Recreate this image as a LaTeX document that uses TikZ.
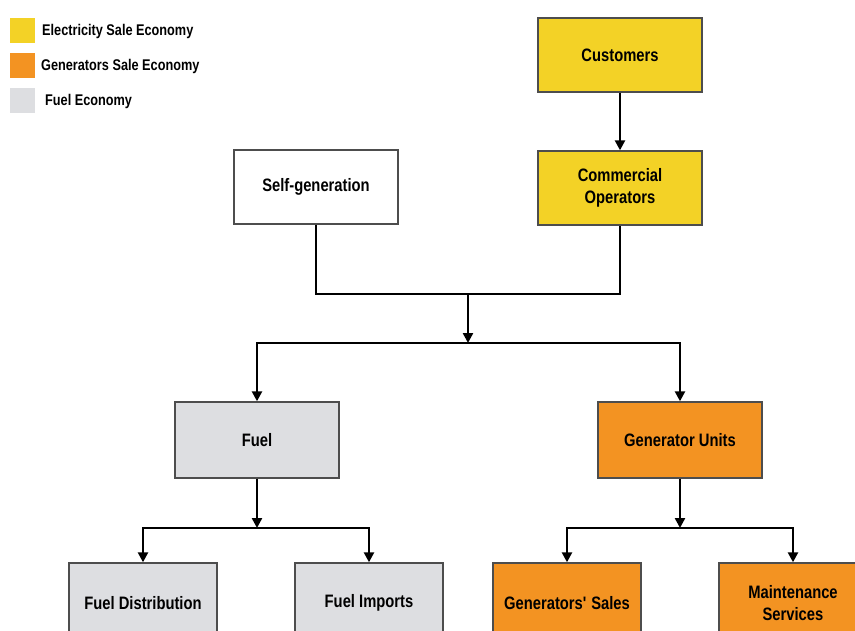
\documentclass[tikz,border=0pt]{standalone}
\usepackage{fontspec}
\setmainfont{Liberation Sans}[FakeStretch=0.82]
\usepackage{tikz}
\usetikzlibrary{arrows.meta}

\definecolor{elecyellow}{HTML}{F3D226}
\definecolor{genorange}{HTML}{F39322}
\definecolor{fuelgrey}{HTML}{DDDEE1}
\definecolor{boxline}{HTML}{4D4D4D}

\begin{document}
\begin{tikzpicture}[x=1pt,y=-1pt,
		box/.style={draw=boxline,line width=1.4pt,minimum width=164pt,minimum height=74pt,
			align=center,inner sep=0pt,font=\bfseries\fontsize{18}{22}\selectfont},
		lowbox/.style={box,minimum width=148pt,minimum height=80pt},
		legsq/.style={minimum size=25pt,inner sep=0pt},
		legtext/.style={anchor=west,inner sep=0pt,font=\bfseries\fontsize{15.5}{17}\selectfont},
		link/.style={line width=2.4pt},
		arr/.style={link,-{Triangle[length=10pt,width=10pt]}}]

		\clip (0,0) rectangle (855,630);

		% Legend
		\node[legsq,fill=elecyellow] (keyelec) at (22.5,30.5) {};
		\node[legsq,fill=genorange] (keygen) at (22.5,65.5) {};
		\node[legsq,fill=fuelgrey] (keyfuel) at (22.5,100.5) {};
		\node[legtext] (keyeleclbl) at (42,31) {Electricity Sale Economy};
		\node[legtext] (keygenlbl) at (41,66) {Generators Sale Economy};
		\node[legtext] (keyfuellbl) at (45,101) {Fuel Economy};

		% Top: who buys
		\node[box,fill=elecyellow] (customers) at (620,55) {Customers};
		\node[box,fill=elecyellow] (commop) at (620,188) {Commercial\\Operators};
		\node[box,fill=white] (selfgen) at (316,187) {Self-generation};

		% Middle
		\node[box,fill=fuelgrey,minimum height=76pt] (fuel) at (257,440) {Fuel};
		\node[box,fill=genorange,minimum height=76pt] (genunits) at (680,440) {Generator Units};

		% Bottom row
		\node[lowbox,fill=fuelgrey] (fueldist) at (143,603) {Fuel Distribution};
		\node[lowbox,fill=fuelgrey] (fuelimp) at (369,603) {Fuel Imports};
		\node[lowbox,fill=genorange] (gensales) at (567,603) {Generators\textquotesingle\ Sales};
		\node[lowbox,fill=genorange] (maint) at (793,603) {Maintenance\\Services};

		% Connectors
		\coordinate (join) at (468,294);
		\coordinate (split) at (468,343);
		\coordinate (fuelsplit) at (257,528);
		\coordinate (gensplit) at (680,528);

		\draw[arr] (customers) -- (commop);
		\draw[link] (selfgen.south) |- (join) -| (commop.south);
		\draw[arr] (join) -- (split);
		\draw[arr] (split) -| (fuel.north);
		\draw[arr] (split) -| (genunits.north);

		\draw[arr] (fuel) -- (fuelsplit);
		\draw[arr] (fuelsplit) -| (fueldist.north);
		\draw[arr] (fuelsplit) -| (fuelimp.north);

		\draw[arr] (genunits) -- (gensplit);
		\draw[arr] (gensplit) -| (gensales.north);
		\draw[arr] (gensplit) -| (maint.north);

	\end{tikzpicture}
\end{document}
